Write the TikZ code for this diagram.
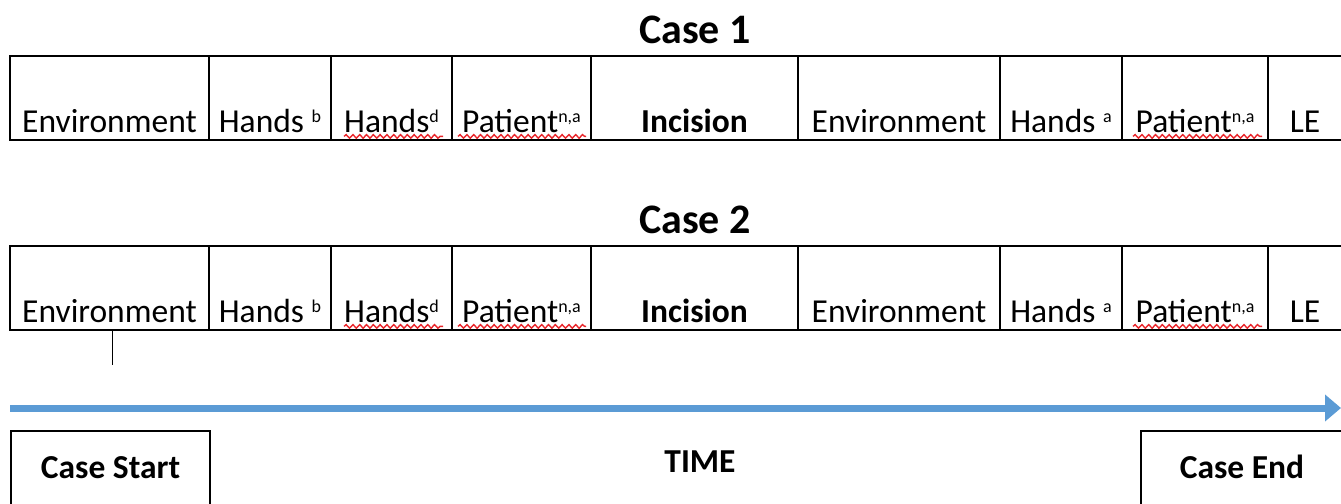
\documentclass[tikz,border=0pt]{standalone}
\usepackage{fontspec}
\setmainfont{Carlito}
\usepackage{tikz}
\usetikzlibrary{arrows.meta, positioning, decorations.pathmorphing}
\definecolor{azulTiempo}{HTML}{5B9BD5}
\definecolor{rojoOrto}{HTML}{E8262B}
\newcommand{\supra}[1]{\raisebox{4.6pt}{\fontsize{9}{9}\selectfont #1}}

\begin{document}
\begin{tikzpicture}[
        x=0.5pt, y=-0.5pt,
        node distance=0pt,
        cell/.style={draw, line width=1pt, outer sep=0pt, inner xsep=0pt, inner ysep=0pt,
            minimum height=42pt, text height=38pt, text depth=4pt, align=center,
            font=\fontsize{16.75}{20}\selectfont},
        ttl/.style={font=\fontsize{21}{25}\selectfont\bfseries},
        bx/.style={draw, line width=1pt, anchor=north west, inner sep=0pt, minimum height=40pt,
            text height=23.5pt, text depth=16.5pt, font=\fontsize{16.75}{20}\selectfont\bfseries},
        squig/.style={rojoOrto, line width=0.7pt, decorate,
            decoration={snake, amplitude=0.9pt, segment length=3.4pt}},
        tline/.style={azulTiempo, line width=3.5pt, -{Triangle[length=8pt, width=13pt]}}
    ]
        \useasboundingbox (0,0) rectangle (1341,504);

        % titulos
        \node[ttl] (case1) at (695,30) {Case 1};
        \node[ttl] (case2) at (695,220) {Case 2};

        % fila 1
        \node[cell, minimum width=99.5pt, anchor=west] (env1) at (10,98) {Environment};
        \node[cell, minimum width=61pt, right=of env1] (hb1) {Hands \supra{b}};
        \node[cell, minimum width=60.5pt, right=of hb1] (hd1) {Hands\supra{d}};
        \node[cell, minimum width=69.5pt, right=of hd1] (pat1) {Patient\supra{n,a}};
        \node[cell, minimum width=103.5pt, right=of pat1, font=\fontsize{16.75}{20}\selectfont\bfseries] (inc1) {Incision};
        \node[cell, minimum width=101pt, right=of inc1] (envb1) {Environment};
        \node[cell, minimum width=61pt, right=of envb1] (ha1) {Hands \supra{a}};
        \node[cell, minimum width=73pt, right=of ha1] (patb1) {Patient\supra{n,a}};
        \node[cell, minimum width=37pt, right=of patb1] (le1) {LE};

        % fila 2
        \node[cell, minimum width=99.5pt, anchor=west] (env2) at (10,288) {Environment};
        \node[cell, minimum width=61pt, right=of env2] (hb2) {Hands \supra{b}};
        \node[cell, minimum width=60.5pt, right=of hb2] (hd2) {Hands\supra{d}};
        \node[cell, minimum width=69.5pt, right=of hd2] (pat2) {Patient\supra{n,a}};
        \node[cell, minimum width=103.5pt, right=of pat2, font=\fontsize{16.75}{20}\selectfont\bfseries] (inc2) {Incision};
        \node[cell, minimum width=101pt, right=of inc2] (envb2) {Environment};
        \node[cell, minimum width=61pt, right=of envb2] (ha2) {Hands \supra{a}};
        \node[cell, minimum width=73pt, right=of ha2] (patb2) {Patient\supra{n,a}};
        \node[cell, minimum width=37pt, right=of patb2] (le2) {LE};

        % subrayado ortografico
        \foreach \r in {1,2} {
            \draw[squig] ([xshift=6.5pt, yshift=1.8pt]hd\r.south west) -- ([xshift=-4.5pt, yshift=1.8pt]hd\r.south east);
            \draw[squig] ([xshift=3pt, yshift=1.8pt]pat\r.south west) -- ([xshift=-2.5pt, yshift=1.8pt]pat\r.south east);
            \draw[squig] ([xshift=5.5pt, yshift=1.8pt]patb\r.south west) -- ([xshift=-3pt, yshift=1.8pt]patb\r.south east);
        }

        % marca de inicio
        \draw[line width=0.5pt] ([xshift=1.25pt]env2.south) -- ++(0,35);

        % eje de tiempo
        \coordinate (tstart) at (10,408);
        \coordinate (tend) at (1341,408);
        \draw[tline] (tstart) -- (tend);

        \node[bx, minimum width=99.5pt] (cstart) at (10,430) {Case Start};
        \node[font=\fontsize{16.75}{20}\selectfont\bfseries] (time) at (700,462) {TIME};
        \node[bx, minimum width=101pt] (cend) at (1140,430) {Case End};
    \end{tikzpicture}
\end{document}
